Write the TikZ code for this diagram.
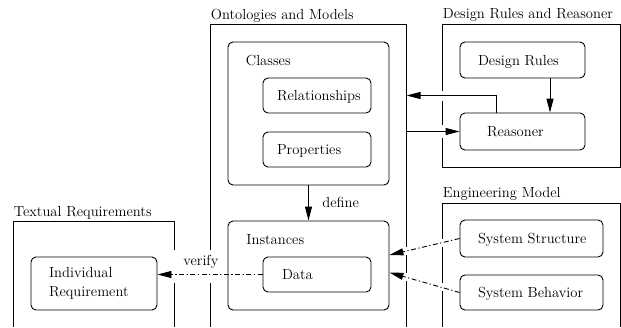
\documentclass[tikz,border=0pt]{standalone}
\usetikzlibrary{arrows.meta}
\newcommand{\lbox}[2]{\makebox[#1][l]{#2}}
\begin{document}
\begin{tikzpicture}[x=1pt,y=-1pt,
  font=\rmfamily\fontsize{14.6}{19}\selectfont,
  line width=0.9pt,
  rbox/.style={draw, rounded corners=5pt, inner ysep=0pt, anchor=center},
  oneline/.style={text height=10pt, text depth=0pt},
  ttl/.style={anchor=base west, inner sep=0pt},
  lbl/.style={anchor=base west, inner sep=0pt},
  arr/.style={-{Triangle[length=14pt,width=7pt]}},
  dd/.style={arr, dash pattern=on 5pt off 2.5pt on 1.2pt off 2.5pt}
]
\useasboundingbox (0,0) rectangle (621,327);

% outer containers
\draw (210,327) -- (210,24) -- (406.5,24) -- (406.5,327);
\draw (442,24) rectangle (620,167);
\draw (442,327) -- (442,203) -- (620,203) -- (620,327);
\draw (13,327) -- (13,221) -- (174,221) -- (174,327);

% gaps where connectors cross container edges
\fill[white] (170,250) rectangle (214,283);
\fill[white] (438,90.5) rectangle (446,100.5);
\fill[white] (438,125) rectangle (446,138);
\fill[white] (438,238.7) rectangle (446,246.7);
\fill[white] (402.5,247) rectangle (410.5,255);
\fill[white] (438,283.4) rectangle (446,291.4);
\fill[white] (402.5,273.4) rectangle (410.5,281.4);

% titles
\node[ttl] (ontT) at (210.5,19) {Ontologies and Models};
\node[ttl] (drrT) at (442.5,18.5) {Design Rules and Reasoner};
\node[ttl] (emT) at (442.5,197.5) {Engineering Model};
\node[ttl] (trT) at (13.5,216.5) {Textual Requirements};

% connection points on the ontology container
\coordinate (ontR) at (406.5,24);
\coordinate (dx) at (550,0);
\coordinate (rx) at (496,0);

% ontology boxes
\node[rbox, minimum width=161, minimum height=143] (classes) at (308.5,113.5) {};
\node[lbl] (classesL) at (245.5,65) {Classes};
\node[rbox, oneline, minimum width=108, minimum height=35, inner xsep=14pt] (rel) at (317,95.5) {\lbox{80pt}{Relationships}};
\node[rbox, oneline, minimum width=108, minimum height=35, inner xsep=14pt] (prop) at (317,149.5) {\lbox{80pt}{Properties}};

\node[rbox, minimum width=161, minimum height=89] (instances) at (308.5,265.5) {};
\node[lbl] (instancesL) at (246,244) {Instances};
\node[rbox, oneline, minimum width=108, minimum height=35, inner xsep=19pt] (data) at (317,274.5) {\lbox{70pt}{Data}};

% textual requirements
\node[rbox, minimum width=126, minimum height=53, inner xsep=18pt, text width=90pt, align=flush left] (indreq) at (94,283.5) {Individual\\Requirement};

% design rules and reasoner
\node[rbox, oneline, minimum width=125, minimum height=36, inner xsep=18pt] (dr) at (522.5,60) {\lbox{89pt}{Design Rules}};
\node[rbox, oneline, minimum width=125, minimum height=37, inner xsep=27pt] (rea) at (522.5,131.5) {\lbox{71pt}{Reasoner}};

% engineering model
\node[rbox, oneline, minimum width=143, minimum height=37, inner xsep=18pt] (ss) at (531.5,238.5) {\lbox{107pt}{System Structure}};
\node[rbox, oneline, minimum width=143, minimum height=35, inner xsep=18pt] (sb) at (531.5,292.5) {\lbox{107pt}{System Behavior}};

% connectors
\draw[arr] (classes.south) -- (instances.north);
\node[lbl] (defineL) at (322,207) {define};
\draw[arr] (dr.south -| dx) -- (rea.north -| dx);
\draw[arr] (rea.north -| rx) |- (ontR |- rel.center);
\draw[arr] (ontR |- rea.west) -- (rea.west);
\draw[dd] (data.west) -- (data.west -| indreq.east);
\node[lbl] (verifyL) at (183,265) {verify};
\draw[dd] (ss.west) -- ([yshift=10.5pt]instances.east);
\draw[dd] (sb.west) -- ([yshift=-7pt]instances.east);
\end{tikzpicture}
\end{document}
